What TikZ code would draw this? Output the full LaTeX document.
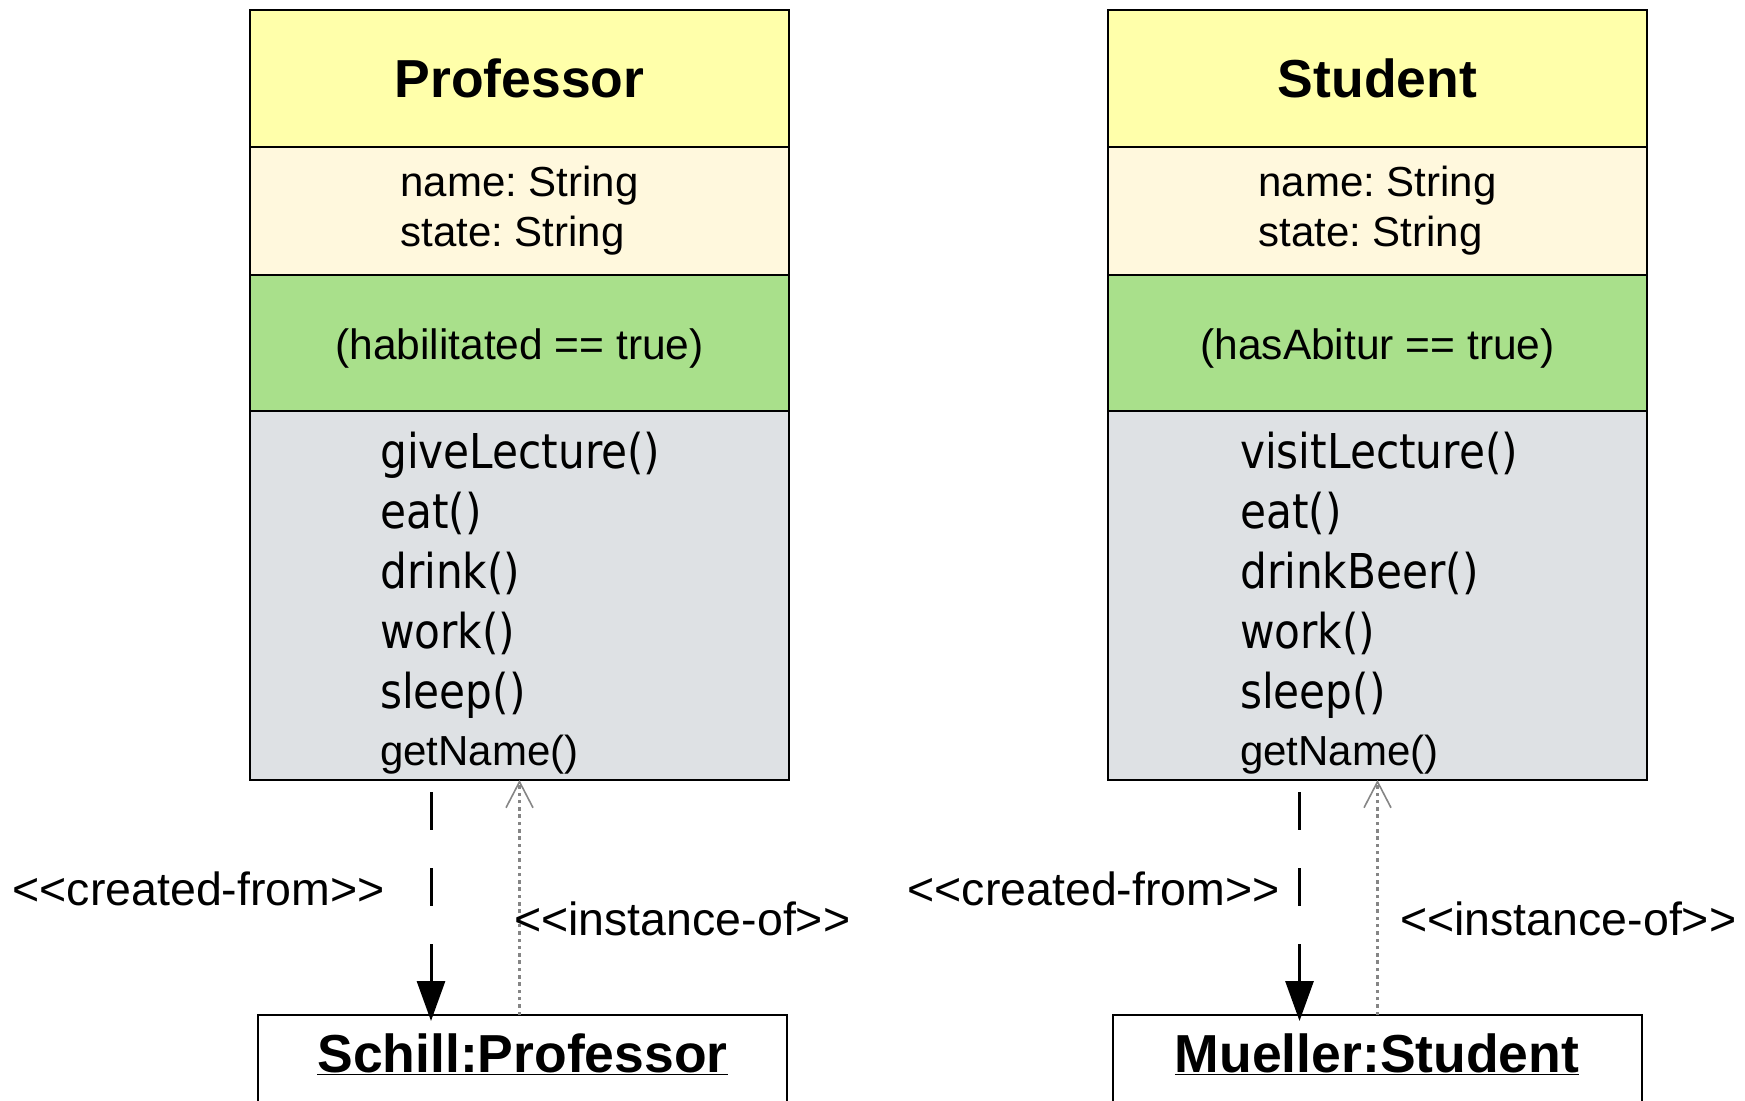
\documentclass[tikz,border=0pt]{standalone}
\usepackage{fontspec}
\setmainfont{Liberation Sans}
\newfontfamily\opsfont[FakeStretch=0.88]{DejaVu Sans}
\usetikzlibrary{arrows.meta}
\usetikzlibrary{positioning}

\definecolor{headyellow}{HTML}{FFFFAA}
\definecolor{attrcream}{HTML}{FFF8DD}
\definecolor{condgreen}{HTML}{A9E08B}
\definecolor{opsgrey}{HTML}{DEE1E4}
\definecolor{arrowgrey}{HTML}{858585}

\newcommand{\stereotype}[1]{<\kern0pt<#1>\kern0pt>}
\frenchspacing

\tikzset{
  classbox/.style={draw=black,line width=2.5pt,rectangle,inner sep=0pt,outer sep=0pt,minimum width=539pt},
  headbox/.style={classbox,fill=headyellow,minimum height=137pt,font=\fontsize{53.5}{60}\selectfont\bfseries},
  attrbox/.style={classbox,fill=attrcream,minimum height=128pt,align=left,font=\fontsize{42}{50}\selectfont},
  condbox/.style={classbox,fill=condgreen,minimum height=136pt},
  condtext/.style={inner sep=0pt,font=\fontsize{42.5}{50}\selectfont},
  opsbox/.style={classbox,fill=opsgrey,minimum height=369pt},
  opslist/.style={anchor=north west,inner sep=0pt,align=left,font=\opsfont\fontsize{48}{60}\selectfont},
  objbox/.style={draw=black,line width=2pt,rectangle,inner sep=0pt,outer sep=0pt,minimum width=529pt,minimum height=150pt,anchor=north},
  objname/.style={anchor=base,inner sep=0pt,font=\fontsize{53.5}{60}\selectfont\bfseries},
  created/.style={line width=3pt,dash pattern=on 38pt off 38pt,dash phase=64pt,-{Triangle[length=40pt,width=28pt]},shorten >=-6pt},
  instof/.style={draw=arrowgrey,line width=2.6pt,dash pattern=on 3.5pt off 3.8pt,-{Straight Barb[length=26pt,width=27pt,line width=1.6pt]}},
  stereo/.style={inner sep=0pt,font=\fontsize{46.5}{55}\selectfont}
}

\begin{document}
\begin{tikzpicture}[x=1pt,y=-1pt]
\useasboundingbox (0,0) rectangle (1745,1100);
\clip (0,0) rectangle (1745,1100);

% class Professor
\node[headbox,anchor=north] (profhead) at (519.5,10) {Professor};
\node[attrbox,below=0pt of profhead] (profattr) {name: String\\state: String};
\node[condbox,below=0pt of profattr] (profcond) {};
\node[condtext] (profcondtext) at ([yshift=-5pt]profcond.center) {(habilitated == true)};
\node[opsbox,below=0pt of profcond] (profops) {};
\node[opslist] (profopslist) at ([shift={(130pt,-20.5pt)}]profops.north west)
  {giveLecture()\\eat()\\drink()\\work()\\sleep()\\[-3pt]{\rmfamily\fontsize{42}{50}\selectfont getName()}};

% class Student
\node[headbox,anchor=north] (studhead) at (1377.5,10) {Student};
\node[attrbox,below=0pt of studhead] (studattr) {name: String\\state: String};
\node[condbox,below=0pt of studattr] (studcond) {};
\node[condtext] (studcondtext) at ([yshift=-5pt]studcond.center) {(hasAbitur == true)};
\node[opsbox,below=0pt of studcond] (studops) {};
\node[opslist] (studopslist) at ([shift={(132pt,-20.5pt)}]studops.north west)
  {visitLecture()\\eat()\\drinkBeer()\\work()\\sleep()\\[-3pt]{\rmfamily\fontsize{42}{50}\selectfont getName()}};

% objects
\node[objbox] (schill) at (522.5,1015) {};
\node[objname] (schillname) at ([yshift=-57pt]schill.north) {\underline{Schill:Professor}};
\node[objbox] (mueller) at (1377,1015) {};
\node[objname] (muellername) at ([yshift=-57pt]mueller.north) {\underline{Mueller:Student}};

% relations
\coordinate (profcf) at ([xshift=-88.5pt]profops.south);
\draw[created] (profcf) -- (profcf |- schill.north);
\draw[instof] (schill.north -| profops.south) -- (profops.south);
\coordinate (studcf) at ([xshift=-78pt]studops.south);
\draw[created] (studcf) -- (studcf |- mueller.north);
\draw[instof] (mueller.north -| studops.south) -- (studops.south);

\node[stereo,anchor=base east] (profcflabel) at (385,905) {\stereotype{created-from}};
\node[stereo,anchor=base west] (profiolabel) at (514,935) {\stereotype{instance-of}};
\node[stereo,anchor=base east] (studcflabel) at (1280,905) {\stereotype{created-from}};
\node[stereo,anchor=base west] (studiolabel) at (1400,935) {\stereotype{instance-of}};

\end{tikzpicture}
\end{document}
